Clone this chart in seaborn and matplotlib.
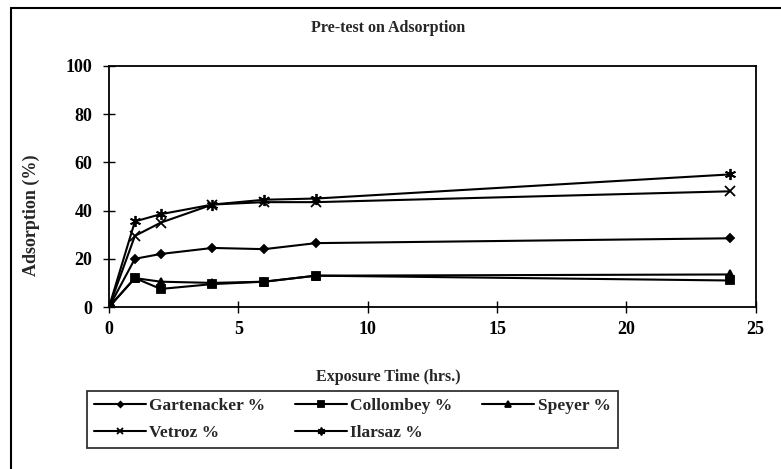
import matplotlib
matplotlib.use("Agg")
import matplotlib.pyplot as plt
import pandas as pd
import seaborn as sns
from matplotlib.lines import Line2D

# data
hours = [0, 1, 2, 4, 6, 8, 24]
gartenacker = [0, 20, 22, 24.5, 24, 26.5, 28.5]
collombey = [0, 12, 7.5, 9.5, 10.5, 13, 11]
speyer = [0, 12, 10.5, 10, 10.5, 13, 13.5]
vetroz = [0, 29.5, 35, 42.5, 43.5, 43.5, 48]
ilarsaz = [0, 35.5, 38.5, 42.5, 44.5, 45, 55]

series_names = ["Gartenacker %", "Collombey %", "Speyer %", "Vetroz %", "Ilarsaz %"]
series_values = [gartenacker, collombey, speyer, vetroz, ilarsaz]
y_ticks = [0, 20, 40, 60, 80, 100]
x_ticks = [0, 5, 10, 15, 20, 25]

rows = []
for name, vals in zip(series_names, series_values):
    for h, v in zip(hours, vals):
        rows.append({"Exposure Time (hrs.)": h, "Adsorption (%)": v, "Series": name})
df = pd.DataFrame(rows)

sns.set_style("ticks")
plt.rcParams["font.family"] = ["Liberation Serif", "DejaVu Serif"]
plt.rcParams["font.weight"] = "bold"

fig = plt.figure(figsize=(7.81, 4.69), dpi=100)
ax = fig.add_axes([0.1396, 0.3454, 0.828, 0.514])

markers = {"Gartenacker %": "D", "Collombey %": "s", "Speyer %": "^",
           "Vetroz %": "x", "Ilarsaz %": (6, 2, 0)}
sizes = {"Gartenacker %": 4, "Collombey %": 6, "Speyer %": 6, "Vetroz %": 7, "Ilarsaz %": 8}

for name in series_names:
    sub = df[df["Series"] == name]
    sns.lineplot(data=sub, x="Exposure Time (hrs.)", y="Adsorption (%)", ax=ax,
                 color="black", marker=markers[name], markersize=sizes[name],
                 markeredgecolor="black", markeredgewidth=1.3, linewidth=1.5,
                 label=name, legend=False)

ax.set_xlim(0, 25)
ax.set_ylim(0, 100)
ax.set_xticks(x_ticks)
ax.set_yticks(y_ticks)
ax.tick_params(direction="inout", length=8, width=1, labelsize=13, colors="black")
ax.tick_params(axis="y", pad=8)
ax.tick_params(axis="x", pad=6)
for lab in ax.get_xticklabels() + ax.get_yticklabels():
    lab.set_fontweight("bold")
for sp in ax.spines.values():
    sp.set_visible(True)
    sp.set_linewidth(1.3)
    sp.set_color("black")
ax.set_xlabel("")
ax.set_ylabel("")

fig.text(0.497, 0.94, "Pre-test on Adsorption", ha="center", va="center",
         fontsize=11.5, fontweight="bold")
fig.text(0.497, 0.196, "Exposure Time (hrs.)", ha="center", va="center",
         fontsize=11.5, fontweight="bold")
fig.text(0.040, 0.54, "Adsorption (%)", ha="center", va="center", rotation=90,
         fontsize=13, fontweight="bold")

# outer frame (top and left edges visible in the scan)
fig.add_artist(Line2D([0.014, 1.0], [0.983, 0.983], color="black", lw=1.5,
                      transform=fig.transFigure))
fig.add_artist(Line2D([0.014, 0.014], [0.0, 0.983], color="black", lw=1.5,
                      transform=fig.transFigure))

handles = {}
for line in ax.get_lines():
    handles[line.get_label()] = line
order = ["Gartenacker %", "Vetroz %", "Collombey %", "Ilarsaz %", "Speyer %"]
leg = fig.legend([handles[n] for n in order], order, loc="lower left",
                 bbox_to_anchor=(0.111, 0.045), borderaxespad=0, ncol=3,
                 fontsize=12.5, frameon=True, fancybox=False, edgecolor="black",
                 handlelength=3.0, handletextpad=0.2, columnspacing=1.7,
                 borderpad=0.4, labelspacing=0.6, markerscale=0.7)
leg.get_frame().set_linewidth(1.3)
for t in leg.get_texts():
    t.set_fontweight("bold")

fig.savefig("out.png", dpi=100)
